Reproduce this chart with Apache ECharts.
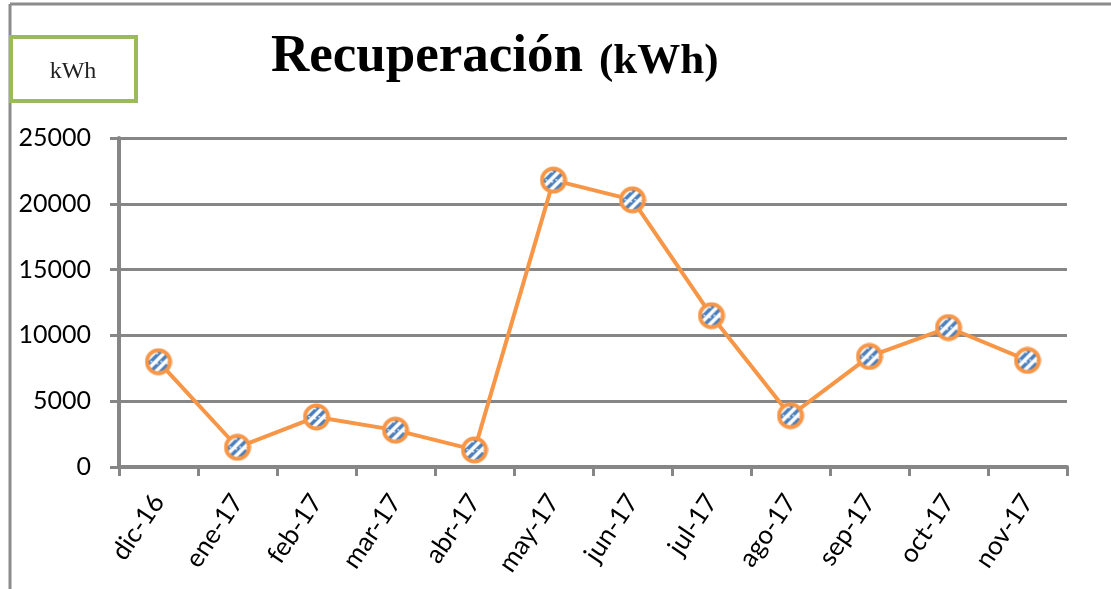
<!DOCTYPE html>
<html><head><meta charset="utf-8">
<script src="https://cdn.jsdelivr.net/npm/echarts@6/dist/echarts.min.js"></script>
<style>html,body{margin:0;padding:0;background:#fff}#c{width:1111px;height:589px}</style>
</head><body><div id="c"></div>
<script>
const categories = ['dic-16','ene-17','feb-17','mar-17','abr-17','may-17','jun-17','jul-17','ago-17','sep-17','oct-17','nov-17'];
const recuperacion = [8000, 1500, 3800, 2800, 1300, 21800, 20300, 11500, 3900, 8400, 10600, 8100];
const yTicks = [0, 5000, 10000, 15000, 20000, 25000];

// diagonal stripe tile (drawn at 2x), stripes rising left-to-right
const T = 20;
const pc = document.createElement('canvas');
pc.width = T; pc.height = T;
const g = pc.getContext('2d');
g.fillStyle = '#ffffff'; g.fillRect(0,0,T,T);
g.strokeStyle = '#4A7EBB'; g.lineWidth = 7; g.lineCap = 'square';
g.beginPath();
g.moveTo(-2, T + 2); g.lineTo(T + 2, -2);
g.moveTo(-2, 2); g.lineTo(2, -2);
g.moveTo(T - 2, T + 2); g.lineTo(T + 2, T - 2);
g.stroke();
// small zigzag notches in white along the stripe
g.fillStyle = '#ffffff';
g.fillRect(4, 10, 3, 3); g.fillRect(12, 6, 3, 3);

const S = 56;
const mc = document.createElement('canvas');
mc.width = S; mc.height = S;
const m = mc.getContext('2d');
m.beginPath(); m.arc(28, 28, 23, 0, Math.PI * 2);
m.fillStyle = m.createPattern(pc, 'repeat'); m.fill();
m.lineWidth = 8; m.strokeStyle = '#F79646'; m.stroke();
const markerImg = 'image://' + mc.toDataURL('image/png');

const chart = echarts.init(document.getElementById('c'));
chart.setOption({
  animation: false,
  title: {
    text: '{a|Recuperación}{b|(kWh)}',
    left: 266, top: 26,
    textStyle: {
      rich: {
        a: { fontFamily: 'Liberation Serif', fontWeight: 'bold', fontSize: 53, color: '#000' },
        b: { fontFamily: 'Liberation Serif', fontWeight: 'bold', fontSize: 43, color: '#000', padding: [8,0,0,16] }
      }
    }
  },
  graphic: [
    { type: 'line', shape: { x1: 10, y1: 4, x2: 1111, y2: 4 }, style: { stroke: '#8c8c8c', lineWidth: 3 } },
    { type: 'line', shape: { x1: 10, y1: 4, x2: 10, y2: 589 }, style: { stroke: '#8c8c8c', lineWidth: 3 } },
    { type: 'rect', shape: { x: 11, y: 37, width: 125, height: 64 }, style: { fill: '#fff', stroke: '#9BBB59', lineWidth: 4 } },
    { type: 'text', x: 73, y: 72, style: { text: 'kWh', fontFamily: 'Liberation Serif', fontSize: 24, fill: '#222', align: 'center', verticalAlign: 'middle' } }
  ],
  grid: { left: 119, right: 44, top: 138, bottom: 122, containLabel: false },
  xAxis: {
    type: 'category',
    data: categories,
    boundaryGap: true,
    axisLine: { lineStyle: { color: '#868686', width: 4 } },
    axisTick: { show: true, length: 9, alignWithLabel: false, lineStyle: { color: '#868686', width: 3 } },
    axisLabel: { rotate: 56, fontFamily: 'Lato', fontSize: 26, color: '#000', margin: 30, interval: 0 }
  },
  yAxis: {
    type: 'value',
    min: 0, max: 25000, interval: 5000,
    axisLine: { show: true, lineStyle: { color: '#868686', width: 4 } },
    axisTick: { show: true, length: 9, lineStyle: { color: '#868686', width: 3 } },
    splitLine: { lineStyle: { color: '#868686', width: 3 } },
    axisLabel: { fontFamily: 'Lato', fontSize: 25, color: '#000', margin: 28,
      formatter: v => yTicks.includes(v) ? String(v) : '' }
  },
  series: [{
    type: 'line',
    data: recuperacion,
    symbol: markerImg,
    symbolSize: 28,
    lineStyle: { color: '#F79646', width: 4 },
    itemStyle: { color: '#F79646' }
  }]
});
</script></body></html>
